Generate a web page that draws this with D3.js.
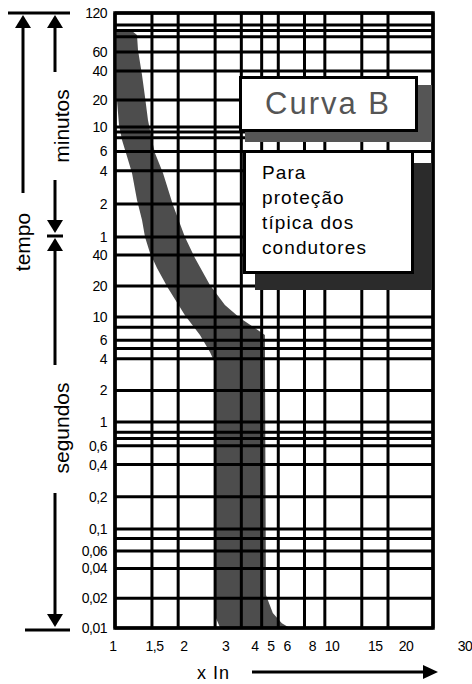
<!DOCTYPE html>
<html><head><meta charset="utf-8">
<script src="https://cdn.jsdelivr.net/npm/d3@7"></script>
<style>body{margin:0;background:#fff} svg{display:block}</style>
</head><body>
<svg id="c" width="472" height="684"></svg>
<script>
// ---------- data ----------
const xGrid = [1, 1.5, 2, 3, 4, 5, 6, 8, 10, 15, 20, 30];          // multiples of In
const xTicks = [1, 1.5, 2, 3, 4, 5, 6, 8, 10, 15, 20, 30];
const xTickLabels = ["1", "1,5", "2", "3", "4", "5", "6", "8", "10", "15", "20", "30"];
const yGridMinutes = [120, 100, 90, 80, 60, 40, 20, 10, 9, 8, 6, 4, 2, 1];
const yGridSeconds = [40, 20, 10, 8, 6, 5, 4, 2, 1, 0.8, 0.7, 0.6, 0.4, 0.2, 0.1, 0.08, 0.06, 0.04, 0.02, 0.01];
const yTicksMinutes = [120, 60, 40, 20, 10, 6, 4, 2, 1];
const yTicksSeconds = [40, 20, 10, 6, 4, 2, 1, 0.6, 0.4, 0.2, 0.1, 0.06, 0.04, 0.02, 0.01];
// band boundaries: [multiple of In, time in seconds]
const bandLeft = [[1.022, 5400], [1.022, 1200], [1.045, 631], [1.08, 457], [1.128, 348], [1.205, 229],
  [1.273, 130], [1.345, 85.6], [1.39, 60], [1.468, 41.9], [1.585, 30], [1.788, 19.1], [2.154, 10.4],
  [2.54, 6.74], [2.834, 4.64], [3.027, 3.49], [3.027, 0.0126], [3.162, 0.0102]];
const bandRight = [[1.205, 5355], [1.273, 4965], [1.287, 3740], [1.345, 2182], [1.39, 1289], [1.436, 718],
  [1.5, 457], [1.55, 348], [1.693, 229], [1.889, 117], [2.154, 60], [2.404, 37.5], [2.834, 20.5],
  [3.34, 13.1], [3.94, 9.8], [4.64, 7.86], [5.18, 6.74], [5.24, 0.0215], [5.65, 0.0142], [6.24, 0.0112], [6.81, 0.01]];
const titleText = "Curva B";
const noteLines = ["Para", "proteção", "típica dos", "condutores"];
const axisTitle = "x In";
const unitLabels = ["tempo", "minutos", "segundos"];

// ---------- scales ----------
const svg = d3.select("#c");
const x = d3.scaleLog().domain([1, 20, 30]).range([115, 388, 433]);
const xLab = d3.scaleLog().domain([1, 4, 5, 10, 20, 30]).range([113, 255, 271, 332, 406, 465]);
const y = d3.scaleLog()
  .domain([0.01, 0.1, 1, 10, 60, 600, 1200, 2400, 3600, 6000, 7200])
  .range([628, 529, 422, 317, 237, 127, 100, 71, 52, 25, 13]);
const fmt = v => String(v).replace(".", ",");

// ---------- band ----------
const poly = bandLeft.concat(bandRight.slice().reverse());
svg.append("path")
  .attr("d", d3.line().x(d => x(d[0])).y(d => y(d[1]))(poly) + "Z")
  .attr("fill", "#4d4d4d");

// ---------- grid ----------
const grid = svg.append("g").attr("stroke", "#000").attr("stroke-width", 3);
const allY = yGridMinutes.map(m => m * 60).concat(yGridSeconds);
grid.selectAll("line.h").data(allY).join("line")
  .attr("x1", x(1)).attr("x2", x(30))
  .attr("y1", d => y(d)).attr("y2", d => y(d));
grid.selectAll("line.v").data(xGrid).join("line")
  .attr("class", "v")
  .attr("x1", d => x(d)).attr("x2", d => x(d))
  .attr("y1", y(7200)).attr("y2", y(0.01));
svg.append("rect").attr("x", x(1)).attr("y", y(7200))
  .attr("width", x(30) - x(1)).attr("height", y(0.01) - y(7200))
  .attr("fill", "none").attr("stroke", "#000").attr("stroke-width", 3.5);

// ---------- boxes ----------
svg.append("rect").attr("x", 245).attr("y", 85).attr("width", 187).attr("height", 57).attr("fill", "#555");
svg.append("rect").attr("x", 240.5).attr("y", 77.5).attr("width", 176).attr("height", 53)
  .attr("fill", "#fff").attr("stroke", "#000").attr("stroke-width", 3);
svg.append("text").attr("x", 265).attr("y", 114).text(titleText)
  .attr("font-family", "Liberation Sans, Arial, sans-serif").attr("font-size", 31)
  .attr("letter-spacing", 2).attr("fill", "#555");

svg.append("rect").attr("x", 255).attr("y", 163).attr("width", 177).attr("height", 127).attr("fill", "#2b2b2b");
svg.append("rect").attr("x", 244.5).attr("y", 151.5).attr("width", 168).attr("height", 121)
  .attr("fill", "#fff").attr("stroke", "#000").attr("stroke-width", 3);
svg.append("g").selectAll("text").data(noteLines).join("text")
  .attr("x", 262).attr("y", (d, i) => 179 + i * 25).text(d => d)
  .attr("font-family", "Liberation Sans, Arial, sans-serif").attr("font-size", 19)
  .attr("letter-spacing", 1.1).attr("fill", "#000");

// ---------- tick labels ----------
const tf = "Liberation Sans, Arial, sans-serif";
svg.append("g").selectAll("text").data(yTicksMinutes).join("text")
  .attr("x", 107).attr("y", d => y(d * 60)).attr("dy", "0.36em")
  .attr("text-anchor", "end").attr("font-family", tf).attr("font-size", 14)
  .attr("letter-spacing", -0.5).text(fmt);
svg.append("g").selectAll("text").data(yTicksSeconds).join("text")
  .attr("x", 107).attr("y", d => y(d)).attr("dy", "0.36em")
  .attr("text-anchor", "end").attr("font-family", tf).attr("font-size", 14)
  .attr("letter-spacing", -0.5).text(fmt);
svg.append("g").selectAll("text").data(xTicks).join("text")
  .attr("x", d => xLab(d)).attr("y", 651)
  .attr("text-anchor", "middle").attr("font-family", tf).attr("font-size", 14)
  .attr("letter-spacing", -0.5).text((d, i) => xTickLabels[i]);

// ---------- x axis title + arrow ----------
svg.append("text").attr("x", 197).attr("y", 679).text(axisTitle)
  .attr("font-family", tf).attr("font-size", 18).attr("letter-spacing", 1);
svg.append("line").attr("x1", 252).attr("x2", 425).attr("y1", 672).attr("y2", 672)
  .attr("stroke", "#000").attr("stroke-width", 3);
svg.append("path").attr("d", "M423,665L438,672L423,679Z").attr("fill", "#000");

// ---------- left annotation ----------
const ann = svg.append("g").attr("stroke", "#000").attr("stroke-width", 3);
ann.append("line").attr("x1", 8).attr("x2", 70).attr("y1", 13).attr("y2", 13);
ann.append("line").attr("x1", 25).attr("x2", 70).attr("y1", 630).attr("y2", 630);
ann.append("line").attr("x1", 23).attr("x2", 23).attr("y1", 26).attr("y2", 193);
ann.append("line").attr("x1", 55).attr("x2", 55).attr("y1", 26).attr("y2", 72);
ann.append("line").attr("x1", 55).attr("x2", 55).attr("y1", 180).attr("y2", 222);
ann.append("line").attr("x1", 47).attr("x2", 63).attr("y1", y(60) - 1).attr("y2", y(60) - 1);
ann.append("line").attr("x1", 55).attr("x2", 55).attr("y1", 250).attr("y2", 365);
ann.append("line").attr("x1", 55).attr("x2", 55).attr("y1", 493).attr("y2", 615);
const up = (cx, ty) => `M${cx},${ty}L${cx + 8},${ty + 13}L${cx - 8},${ty + 13}Z`;
const down = (cx, by) => `M${cx},${by}L${cx + 8},${by - 13}L${cx - 8},${by - 13}Z`;
const heads = svg.append("g").attr("fill", "#000");
heads.append("path").attr("d", up(23, 15));
heads.append("path").attr("d", up(55, 15));
heads.append("path").attr("d", down(55, 233));
heads.append("path").attr("d", up(55, 238));
heads.append("path").attr("d", down(55, 627));
const rot = (txt, cx, cy, bx) => svg.append("text").text(txt)
  .attr("transform", `translate(${bx},${cy}) rotate(-90)`).attr("text-anchor", "middle")
  .attr("font-family", tf).attr("font-size", 21);
rot(unitLabels[0], 0, 242, 30);
rot(unitLabels[1], 0, 126, 69);
rot(unitLabels[2], 0, 428, 69);
</script>
</body></html>
